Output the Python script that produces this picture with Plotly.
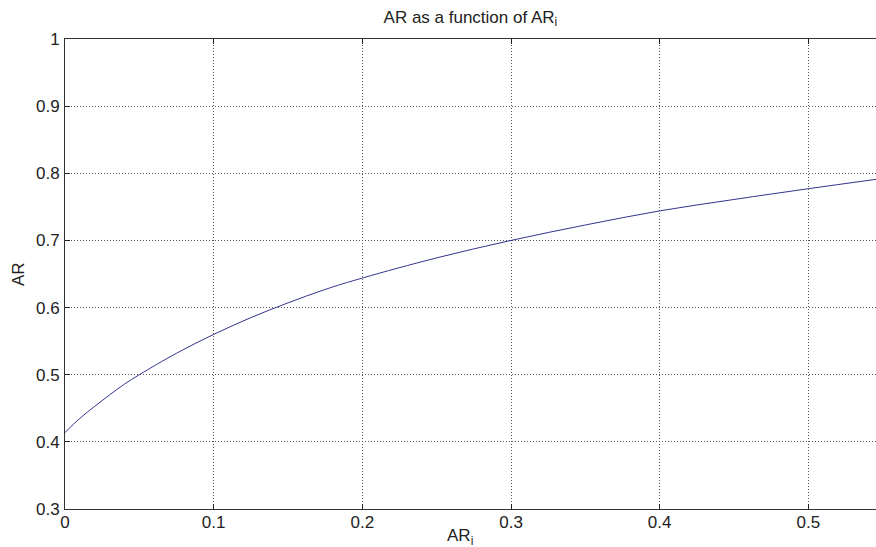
import plotly.graph_objects as go

# AR_i values (x) and AR values (y)
ar_i = [0.0, 0.01, 0.02, 0.03, 0.04, 0.05, 0.075, 0.1, 0.125, 0.15, 0.175, 0.2,
        0.25, 0.3, 0.35, 0.4, 0.45, 0.5, 0.5455]
ar = [0.414, 0.435, 0.453, 0.470, 0.486, 0.500, 0.532, 0.560, 0.585, 0.607, 0.627, 0.644,
      0.674, 0.700, 0.723, 0.744, 0.761, 0.777, 0.791]

x_ticks = [0, 0.1, 0.2, 0.3, 0.4, 0.5]
x_tick_text = ["0", "0.1", "0.2", "0.3", "0.4", "0.5"]
y_ticks = [0.3, 0.4, 0.5, 0.6, 0.7, 0.8, 0.9, 1.0]
y_tick_text = ["0.3", "0.4", "0.5", "0.6", "0.7", "0.8", "0.9", "1"]

font_family = "Liberation Sans, Arial, sans-serif"
text_color = "#222222"
fs = 17

fig = go.Figure()
fig.add_trace(go.Scatter(x=ar_i, y=ar, mode="lines",
                         line=dict(color="#34348f", width=1, shape="spline"),
                         showlegend=False, hoverinfo="skip"))

axis_common = dict(
    showline=True, linecolor="#303030", linewidth=1,
    ticks="inside", ticklen=5, tickcolor="#202020", tickwidth=1,
    showgrid=True, gridcolor="#555555", gridwidth=1, griddash="1px,2px",
    zeroline=False, automargin=False,
    tickfont=dict(family=font_family, size=fs, color=text_color),
)

fig.update_xaxes(range=[0, 0.5455], tickvals=x_ticks, ticktext=x_tick_text,
                 mirror="ticks", ticklabelstandoff=-2, **axis_common)
fig.update_yaxes(range=[0.3, 1.0], tickvals=y_ticks, ticktext=y_tick_text,
                 mirror=False, ticklabelstandoff=1, **axis_common)

fig.add_annotation(text="AR<sub>i</sub>", xref="paper", yref="paper",
                   x=0.487, y=0, yshift=-15, xanchor="center", yanchor="top",
                   showarrow=False, font=dict(family=font_family, size=fs, color=text_color))
fig.add_annotation(text="AR", xref="paper", yref="paper",
                   x=0, xshift=-47, y=0.5, xanchor="center", yanchor="middle",
                   textangle=-90, showarrow=False,
                   font=dict(family=font_family, size=fs, color=text_color))

fig.update_layout(
    width=876, height=547,
    margin=dict(l=65, r=0, t=39, b=38),
    paper_bgcolor="white", plot_bgcolor="white",
    title=dict(text="AR as a function of AR<sub>i</sub>", x=0.537, xanchor="center",
               y=0.98, yanchor="top",
               font=dict(family=font_family, size=fs, color=text_color)),
)

fig.write_html(
    "out.html",
    config={"displayModeBar": False},
    post_script="document.body.style.margin='0';document.body.style.overflow='hidden';",
)
